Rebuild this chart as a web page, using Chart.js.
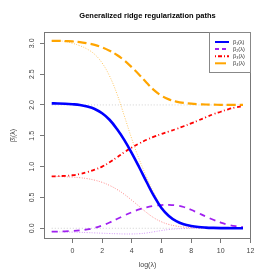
<!DOCTYPE html>
<html><head><meta charset="utf-8">
<script src="https://cdn.jsdelivr.net/npm/chart.js@4"></script>
<style>html,body{margin:0;padding:0;background:#fff}#wrap{width:280px;height:280px}</style>
</head><body><div id="wrap"><canvas id="c" width="280" height="280"></canvas></div>
<script>
// log(lambda) grid
const X = [-1.4, -1, -0.5, 0, 0.5, 1, 1.5, 2, 2.5, 3, 3.5, 4, 4.5, 5, 5.5, 6, 6.5, 7, 7.5, 8, 8.5, 9, 9.5, 10, 10.5, 11, 11.5];
// generalized ridge paths
const B1 = [2.025, 2.024, 2.02, 2.012, 2.0, 1.975, 1.935, 1.865, 1.76, 1.61, 1.43, 1.22, 0.99, 0.75, 0.52, 0.33, 0.2, 0.115, 0.065, 0.037, 0.02, 0.011, 0.006, 0.003, 0.002, 0.001, 0.0];
const B2 = [-0.055, -0.055, -0.05, -0.045, -0.035, -0.018, 0.008, 0.045, 0.093, 0.15, 0.207, 0.26, 0.305, 0.34, 0.363, 0.377, 0.38, 0.37, 0.345, 0.3, 0.245, 0.19, 0.138, 0.093, 0.058, 0.034, 0.02];
const B3 = [0.84, 0.845, 0.85, 0.86, 0.88, 0.91, 0.95, 1.0, 1.07, 1.15, 1.235, 1.31, 1.375, 1.435, 1.485, 1.53, 1.57, 1.61, 1.655, 1.70, 1.75, 1.80, 1.85, 1.89, 1.93, 1.96, 1.98];
const B4 = [3.04, 3.04, 3.035, 3.03, 3.02, 3.0, 2.975, 2.935, 2.88, 2.81, 2.72, 2.61, 2.49, 2.36, 2.24, 2.15, 2.09, 2.055, 2.033, 2.02, 2.012, 2.007, 2.004, 2.002, 2.001, 2.0, 2.0];
// standard ridge paths (thin dotted)
const S2 = [-0.055, -0.057, -0.06, -0.062, -0.066, -0.07, -0.075, -0.08, -0.085, -0.089, -0.092, -0.092, -0.088, -0.076, -0.057, -0.037, -0.02, -0.01, -0.005, -0.002, -0.001, 0, 0, 0, 0, 0, 0];
const S3 = [0.84, 0.84, 0.835, 0.83, 0.82, 0.805, 0.78, 0.745, 0.695, 0.63, 0.55, 0.455, 0.355, 0.255, 0.168, 0.105, 0.062, 0.036, 0.02, 0.012, 0.007, 0.004, 0.002, 0.001, 0, 0, 0];
const S4 = [3.04, 3.04, 3.03, 3.0, 2.96, 2.905, 2.82, 2.68, 2.47, 2.18, 1.82, 1.45, 1.12, 0.83, 0.57, 0.36, 0.215, 0.12, 0.068, 0.038, 0.021, 0.012, 0.006, 0.003, 0.001, 0, 0];
// reference levels (targets)
const REF_LEVELS = [0, 2];
const LEGEND_LABELS = ['β₁(λ)', 'β₂(λ)', 'β₃(λ)', 'β₄(λ)'];
const Y_TICKS = [0, 0.5, 1, 1.5, 2, 2.5, 3];
const Y_TICK_LABELS = ['0.0', '0.5', '1.0', '1.5', '2.0', '2.5', '3.0'];
const X_TICKS = [0, 2, 4, 6, 8, 10, 12];
const X_TICK_LABELS = ['0', '2', '4', '6', '8', '10', '12'];

const FONT = "'Liberation Sans', Arial, Helvetica, sans-serif";
const pts = ys => X.map((x, i) => ({x: x, y: ys[i]}));
const refPts = v => [{x: X[0], y: v}, {x: X[X.length - 1], y: v}];

const base = {pointRadius: 0, fill: false, tension: 0.4, borderCapStyle: 'butt'};
const datasets = [
  Object.assign({label: LEGEND_LABELS[0], data: pts(B1), borderColor: '#0000FF', borderWidth: 2.6, inLegend: true, lgDash: []}, base),
  Object.assign({label: LEGEND_LABELS[1], data: pts(B2), borderColor: '#A020F0', borderWidth: 1.8, borderDash: [6, 5], inLegend: true, lgDash: [4, 3]}, base),
  Object.assign({label: LEGEND_LABELS[2], data: pts(B3), borderColor: '#FF0000', borderWidth: 1.8, borderDash: [4, 2.5, 1, 2.5], inLegend: true, lgDash: [1, 2, 4, 2]}, base),
  Object.assign({label: LEGEND_LABELS[3], data: pts(B4), borderColor: '#FFA500', borderWidth: 2.2, borderDash: [9, 4], inLegend: true, lgDash: [11, 3]}, base),
  Object.assign({label: 'std2', data: pts(S2), borderColor: 'rgba(160,32,240,0.45)', borderWidth: 1, borderDash: [1, 1.5]}, base),
  Object.assign({label: 'std3', data: pts(S3), borderColor: 'rgba(255,0,0,0.45)', borderWidth: 1, borderDash: [1, 1.5]}, base),
  Object.assign({label: 'std4', data: pts(S4), borderColor: 'rgba(255,165,0,0.6)', borderWidth: 1, borderDash: [1, 1.5]}, base)
].concat(REF_LEVELS.map(v => Object.assign({label: 'ref', data: refPts(v), borderColor: '#d0d0d0', borderWidth: 1, borderDash: [1, 2]}, base)));

const framePlugin = {
  id: 'frame',
  afterDraw(chart) {
    const {ctx, chartArea: a} = chart;
    ctx.save();
    ctx.strokeStyle = '#777';
    ctx.lineWidth = 1;
    ctx.strokeRect(Math.round(a.left) + 0.5, Math.round(a.top) + 0.5, Math.round(a.right - a.left) - 1, Math.round(a.bottom - a.top) - 1);
    // legend
    const w = 42, h = 40;
    const x0 = Math.round(a.right) - w, y0 = Math.round(a.top);
    ctx.fillStyle = '#fff';
    ctx.fillRect(x0, y0 + 1, w - 1, h);
    ctx.strokeStyle = '#888';
    ctx.lineWidth = 1;
    ctx.strokeRect(x0 + 0.5, y0 + 0.5, w - 1, h);
    let row = 0;
    chart.data.datasets.forEach(ds => {
      if (!ds.inLegend) return;
      const y = y0 + 10 + row * 7.1;
      ctx.strokeStyle = ds.borderColor;
      ctx.lineWidth = 2;
      ctx.setLineDash(ds.lgDash);
      ctx.beginPath(); ctx.moveTo(x0 + 6, y); ctx.lineTo(x0 + 20, y); ctx.stroke();
      ctx.setLineDash([]);
      ctx.fillStyle = '#333';
      ctx.font = '5.5px ' + FONT;
      ctx.textBaseline = 'middle';
      ctx.textAlign = 'left';
      ctx.fillText(ds.label, x0 + 24, y);
      row++;
    });
    ctx.restore();
  }
};

new Chart(document.getElementById('c'), {
  type: 'line',
  data: {datasets: datasets},
  options: {
    responsive: false,
    animation: false,
    events: [],
    layout: {padding: {left: 0, right: 29, top: 0, bottom: 0}},
    plugins: {
      legend: {display: false},
      tooltip: {enabled: false},
      title: {display: true, text: 'Generalized ridge regularization paths', fullSize: false,
        font: {family: FONT, size: 7.5, weight: 'bold'}, color: '#000', padding: {top: 11, bottom: 12}}
    },
    scales: {
      x: {
        type: 'linear', min: -1.92, max: 12.04,
        afterBuildTicks: s => { s.ticks = X_TICKS.map(v => ({value: v})); },
        afterFit: s => { s.height = 41; },
        grid: {display: true, drawOnChartArea: false, drawTicks: true, tickLength: 4, color: '#777', tickColor: '#777'},
        border: {display: false},
        ticks: {padding: 4, autoSkip: false, minRotation: 0, maxRotation: 0, font: {family: FONT, size: 7}, color: '#444',
          callback: (v, i) => X_TICK_LABELS[i]},
        title: {display: true, text: 'log(λ)', font: {family: FONT, size: 7}, color: '#444', padding: {top: 0, bottom: 11}}
      },
      y: {
        type: 'linear', min: -0.174, max: 3.183,
        afterBuildTicks: s => { s.ticks = Y_TICKS.map(v => ({value: v})); },
        afterFit: s => { s.width = 44; },
        grid: {display: true, drawOnChartArea: false, drawTicks: true, tickLength: 4, color: '#777', tickColor: '#777'},
        border: {display: false},
        ticks: {padding: 3, autoSkip: false, minRotation: 90, maxRotation: 90, crossAlign: 'center', font: {family: FONT, size: 7}, color: '#444',
          callback: (v, i) => Y_TICK_LABELS[i]},
        title: {display: true, text: 'β̂ⱼ(λ)', font: {family: FONT, size: 7}, color: '#444', padding: {top: 9, bottom: 0}}
      }
    }
  },
  plugins: [framePlugin]
});
</script>
</body></html>
